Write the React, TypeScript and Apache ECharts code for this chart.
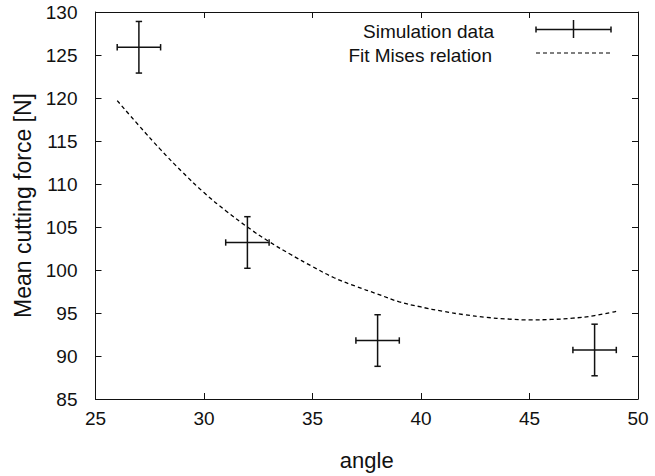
import React, { useEffect, useRef } from "react";
import * as echarts from "echarts";

// Simulation data: angle, mean cutting force, x error, y error
const simAngle = [27, 32, 38, 48];
const simForce = [125.9, 103.2, 91.8, 90.7];
const simAngleErr = [1, 1, 1, 1];
const simForceErr = [3, 3, 3, 3];

// Fit Mises relation
const fitAngle = [26, 27, 28, 29, 30, 31, 32, 33, 34, 35, 36, 37, 38, 39, 40, 41, 42, 43, 44, 45, 46, 47, 48, 49];
const fitForce = [119.7, 116.8, 114.0, 111.4, 109.0, 106.9, 105.0, 103.3, 101.8, 100.4, 99.1, 98.1, 97.2, 96.3, 95.7, 95.2, 94.8, 94.5, 94.3, 94.2, 94.25, 94.4, 94.7, 95.2];

const xTicks = { min: 25, max: 50, interval: 5 };
const yTicks = { min: 85, max: 130, interval: 5 };

const FONT = "'Liberation Sans', Arial, Helvetica, sans-serif";
const INK = "#111111";

export default function App() {
  const ref = useRef<HTMLDivElement>(null);

  useEffect(() => {
    if (!ref.current) return;
    const chart = echarts.init(ref.current, undefined, { renderer: "svg" });

    const errData = simAngle.map((a, i) => [a, simForce[i], simAngleErr[i], simForceErr[i]]);
    const fitData = fitAngle.map((a, i) => [a, fitForce[i]]);

    const axisCommon = {
      type: "value" as const,
      axisLine: { show: true, lineStyle: { color: INK, width: 1 } },
      axisTick: { show: true, inside: true, length: 6, lineStyle: { color: INK, width: 1 } },
      splitLine: { show: false },
    };

    const option: any = {
      animation: false,
      backgroundColor: "#ffffff",
      grid: { left: 95.5, right: 17, top: 12, bottom: 72.5, containLabel: false },
      xAxis: [
        {
          ...axisCommon,
          ...xTicks,
          position: "bottom",
          name: "angle",
          nameLocation: "middle",
          nameGap: 50,
          nameTextStyle: { fontFamily: FONT, fontSize: 22, color: INK },
          axisLabel: { fontFamily: FONT, fontSize: 19, color: INK, margin: 10 },
        },
        {
          ...axisCommon,
          ...xTicks,
          position: "top",
          axisLabel: { show: false },
        },
      ],
      yAxis: [
        {
          ...axisCommon,
          ...yTicks,
          position: "left",
          name: "Mean cutting force [N]",
          nameLocation: "middle",
          nameGap: 55,
          nameTextStyle: { fontFamily: FONT, fontSize: 23, color: INK },
          axisLabel: { fontFamily: FONT, fontSize: 19, color: INK, margin: 18 },
        },
        {
          ...axisCommon,
          ...yTicks,
          position: "right",
          axisLabel: { show: false },
        },
      ],
      graphic: [
        {
          type: "text",
          style: { text: "Simulation data", x: 494, y: 31, textAlign: "right", textVerticalAlign: "middle", font: `19px ${FONT}`, fill: INK },
        },
        {
          type: "text",
          style: { text: "Fit Mises relation", x: 492, y: 55, textAlign: "right", textVerticalAlign: "middle", font: `19px ${FONT}`, fill: INK },
        },
        { type: "line", shape: { x1: 536, y1: 29.5, x2: 611, y2: 29.5 }, style: { stroke: INK, lineWidth: 1.5 } },
        { type: "line", shape: { x1: 536, y1: 26.5, x2: 536, y2: 32.5 }, style: { stroke: INK, lineWidth: 1.5 } },
        { type: "line", shape: { x1: 611, y1: 26.5, x2: 611, y2: 32.5 }, style: { stroke: INK, lineWidth: 1.5 } },
        { type: "line", shape: { x1: 573.5, y1: 20, x2: 573.5, y2: 38 }, style: { stroke: INK, lineWidth: 1.5 } },
        { type: "line", shape: { x1: 536, y1: 53, x2: 611, y2: 53 }, style: { stroke: "#000", lineWidth: 1.2, lineDash: [4, 3] } },
      ],
      series: [
        {
          name: "Fit Mises relation",
          type: "line",
          data: fitData,
          smooth: true,
          showSymbol: false,
          symbol: "none",
          lineStyle: { color: "#000", width: 1.3, type: [4, 3] },
          z: 2,
        },
        {
          name: "Simulation data",
          type: "custom",
          data: errData,
          encode: { x: 0, y: 1 },
          z: 3,
          renderItem: (params: any, api: any) => {
            const x = api.value(0);
            const y = api.value(1);
            const ex = api.value(2);
            const ey = api.value(3);
            const l = api.coord([x - ex, y]);
            const r = api.coord([x + ex, y]);
            const t = api.coord([x, y + ey]);
            const b = api.coord([x, y - ey]);
            const cap = 3.2;
            const st = { stroke: INK, lineWidth: 1.5 };
            return {
              type: "group",
              children: [
                { type: "line", shape: { x1: l[0], y1: l[1], x2: r[0], y2: r[1] }, style: st },
                { type: "line", shape: { x1: l[0], y1: l[1] - cap, x2: l[0], y2: l[1] + cap }, style: st },
                { type: "line", shape: { x1: r[0], y1: r[1] - cap, x2: r[0], y2: r[1] + cap }, style: st },
                { type: "line", shape: { x1: t[0], y1: t[1], x2: b[0], y2: b[1] }, style: st },
                { type: "line", shape: { x1: t[0] - cap, y1: t[1], x2: t[0] + cap, y2: t[1] }, style: st },
                { type: "line", shape: { x1: b[0] - cap, y1: b[1], x2: b[0] + cap, y2: b[1] }, style: st },
              ],
            };
          },
        },
      ],
    };

    chart.setOption(option);
    return () => chart.dispose();
  }, []);

  return (
    <div
      ref={ref}
      style={{ position: "fixed", left: 0, top: 0, width: 655, height: 476, background: "#fff" }}
    />
  );
}
